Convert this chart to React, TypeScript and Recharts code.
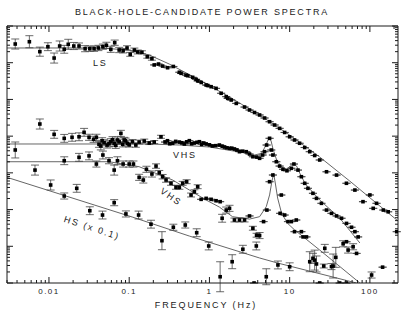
import { ComposedChart, ErrorBar, Line, Scatter, XAxis, YAxis } from "recharts";

// [frequency (Hz), power (arb.), error factor (1 = no bar)]
const LS_POINTS: [number, number, number][] = [
  [0.0038, 323, 1.37], [0.0057, 373, 1.46], [0.0077, 200, 1.33], [0.0097, 273, 1.28],
  [0.0116, 134, 1.37], [0.0136, 285, 1.37], [0.0155, 232, 1.28], [0.0174, 317, 1.37],
  [0.0204, 285, 1.25], [0.0237, 285, 1.21], [0.0282, 241, 1.21], [0.0323, 241, 1.18],
  [0.0365, 241, 1.18], [0.0413, 252, 1.18], [0.047, 273, 1.18], [0.052, 298, 1.21],
  [0.059, 232, 1.21], [0.066, 351, 1.18], [0.075, 222, 1.18], [0.084, 212, 1.15],
  [0.094, 252, 1.15], [0.103, 169, 1.13], [0.116, 222, 1.13], [0.128, 196, 1.13],
  [0.144, 192, 1.1], [0.168, 146, 1.1], [0.192, 129, 1.1], [0.205, 87, 1],
  [0.232, 92, 1], [0.261, 81, 1], [0.301, 73, 1], [0.355, 79, 1],
  [0.422, 55, 1], [0.443, 51.4, 1], [0.511, 46, 1], [0.535, 44.3, 1],
  [0.618, 40, 1], [0.682, 35.3, 1], [0.714, 32, 1], [0.79, 29, 1],
  [0.91, 24.7, 1], [0.95, 24, 1], [1.05, 22.2, 1], [1.21, 20, 1],
  [1.4, 14.7, 1], [1.62, 11.9, 1], [1.69, 10.7, 1], [1.87, 9.64, 1],
  [2.16, 7.8, 1], [2.74, 6.2, 1], [3.16, 5.15, 1], [3.65, 4.4, 1],
  [4.22, 3.77, 1], [4.87, 3.12, 1], [5.62, 2.47, 1], [6.49, 2.01, 1],
  [7.5, 1.63, 1], [8.66, 1.26, 1], [10, 0.96, 1], [11.5, 0.785, 1],
  [13.3, 0.64, 1], [15.4, 0.49, 1], [17.8, 0.377, 1], [20.5, 0.297, 1],
  [23.7, 0.224, 1], [28.8, 0.107, 1], [38.4, 0.087, 1], [51, 0.052, 1],
  [65, 0.034, 1], [82, 0.0164, 1], [100, 0.025, 1], [110, 0.0108, 1],
  [121, 0.0148, 1], [147, 0.0097, 1], [169, 0.0087, 1], [216, 0.0025, 1],
];

const VHS_HI_POINTS: [number, number, number][] = [
  [0.0038, 0.42, 1.65], [0.0077, 2.14, 1.37], [0.0116, 1.12, 1.28], [0.0155, 0.87, 1.28],
  [0.0194, 0.93, 1.28], [0.0237, 0.96, 1.28], [0.0274, 1.27, 1.28], [0.0316, 0.93, 1.21],
  [0.036, 0.82, 1.21], [0.039, 0.93, 1.21], [0.042, 0.6, 1.21], [0.0443, 0.54, 1.28],
  [0.046, 0.75, 1.21], [0.0487, 0.66, 1.21], [0.053, 0.573, 1.21], [0.056, 0.62, 1.21],
  [0.059, 0.705, 1.21], [0.062, 0.8, 1.21], [0.065, 0.638, 1.21], [0.068, 0.56, 1.21],
  [0.0714, 0.785, 1.21], [0.075, 0.7, 1.18], [0.0788, 1.19, 1.21], [0.083, 0.6, 1.18],
  [0.0866, 0.785, 1.18], [0.09, 0.75, 1.18], [0.095, 0.638, 1.18], [0.1, 0.58, 1.15],
  [0.11, 0.705, 1.15], [0.121, 0.573, 1.15], [0.133, 0.69, 1.13], [0.154, 0.736, 1.13],
  [0.178, 0.65, 1.1], [0.205, 0.69, 1.1], [0.249, 0.96, 1.1], [0.28, 0.69, 1],
  [0.3, 0.75, 1], [0.32, 0.62, 1], [0.348, 0.638, 1], [0.38, 0.72, 1],
  [0.422, 0.69, 1], [0.45, 0.66, 1], [0.487, 0.611, 1], [0.52, 0.7, 1],
  [0.562, 0.752, 1], [0.6, 0.62, 1], [0.649, 0.65, 1], [0.7, 0.68, 1],
  [0.75, 0.705, 1], [0.8, 0.6, 1], [0.85, 0.65, 1], [0.91, 0.611, 1],
  [1.0, 0.58, 1], [1.09, 0.54, 1], [1.2, 0.55, 1], [1.33, 0.573, 1],
  [1.45, 0.53, 1], [1.54, 0.506, 1], [1.65, 0.48, 1], [1.78, 0.467, 1],
  [1.9, 0.47, 1], [2.05, 0.446, 1], [2.2, 0.42, 1], [2.37, 0.377, 1],
  [2.6, 0.39, 1], [2.88, 0.377, 1], [3.16, 0.326, 1], [3.48, 0.275, 1],
  [3.87, 0.27, 1], [4.22, 0.249, 1], [4.6, 0.306, 1], [4.87, 0.377, 1],
  [5.16, 0.573, 1], [5.62, 0.873, 1], [5.9, 0.419, 1], [6.18, 0.306, 1],
  [6.82, 0.201, 1], [7.5, 0.153, 1], [8.25, 0.125, 1], [9.25, 0.114, 1],
  [10.5, 0.133, 1], [11.3, 0.174, 1], [12.7, 0.119, 1], [14.0, 0.0785, 1],
  [15.4, 0.0519, 1], [16.9, 0.0379, 1], [19.5, 0.0277, 1], [21.6, 0.0202, 1],
  [24.9, 0.0148, 1], [28.8, 0.0097, 1], [33.2, 0.0079, 1], [38.4, 0.0067, 1],
  [44.3, 0.0058, 1], [51.1, 0.0042, 1], [59, 0.0033, 1], [65, 0.0025, 1],
  [71.4, 0.0018, 1],
];

const VHS_LO_POINTS: [number, number, number][] = [
  [0.0067, 0.119, 1.37], [0.0155, 0.214, 1.28], [0.0237, 0.265, 1.28], [0.0316, 0.29, 1.28],
  [0.039, 0.174, 1.21], [0.047, 0.306, 1.28], [0.056, 0.214, 1.21], [0.065, 0.119, 1.37],
  [0.0714, 0.214, 1.28], [0.084, 0.174, 1.21], [0.1, 0.174, 1.21], [0.113, 0.174, 1.21],
  [0.133, 0.0755, 1.21], [0.15, 0.0638, 1.21], [0.164, 0.125, 1.21], [0.192, 0.093, 1.21],
  [0.216, 0.153, 1.15], [0.237, 0.101, 1.15], [0.261, 0.0785, 1.15], [0.288, 0.0638, 1.15],
  [0.332, 0.0519, 1.13], [0.383, 0.0404, 1.13], [0.422, 0.0404, 1.13], [0.464, 0.0519, 1.13],
  [0.52, 0.0574, 1.13], [0.59, 0.0249, 1.13], [0.649, 0.0306, 1.13], [0.714, 0.0419, 1.13],
  [0.788, 0.019, 1], [0.91, 0.0202, 1], [1.05, 0.019, 1], [1.21, 0.0174, 1],
  [1.36, 0.0164, 1], [1.44, 0.0058, 1.28], [1.62, 0.0097, 1.21], [1.78, 0.0108, 1.21],
  [2.05, 0.0052, 1.13], [2.37, 0.0052, 1.13], [2.74, 0.0052, 1.13], [3.16, 0.0067, 1],
  [3.48, 0.0031, 1.13], [3.87, 0.002, 1.13], [4.73, 0.0047, 1], [5.2, 0.0097, 1],
  [5.62, 0.0574, 1], [6.18, 0.0873, 1], [7.87, 0.0249, 1], [7.6, 0.0079, 1],
  [8.66, 0.0071, 1], [9.52, 0.0047, 1], [10.5, 0.0047, 1], [12.1, 0.0052, 1],
  [11.5, 0.0025, 1], [14.0, 0.0025, 1], [14.7, 0.0018, 1], [16.2, 0.0018, 1],
  [19.5, 0.00047, 1.37], [27.4, 0.00088, 1.28], [33.2, 0.00028, 1.21], [46.4, 0.00117, 1.21],
  [51.1, 0.00133, 1], [53.5, 0.00079, 1.21], [61.8, 0.00097, 1.21], [68.2, 0.00064, 1],
  [105, 0.000165, 1.21], [144, 0.00027, 1],
];

const HS_POINTS: [number, number, number][] = [
  [0.0105, 0.0467, 1.37], [0.0155, 0.0234, 1.21], [0.0222, 0.0379, 1.28], [0.0323, 0.0093, 1.28],
  [0.0465, 0.0071, 1.28], [0.065, 0.0154, 1.21], [0.091, 0.0076, 1.21], [0.131, 0.0071, 1.28],
  [0.187, 0.004, 1.28], [0.256, 0.00142, 1.76], [0.355, 0.0033, 1.21], [0.5, 0.0038, 1.21],
  [0.694, 0.00234, 1.28], [0.98, 0.00102, 1.28], [1.36, 0.000148, 2.56], [1.92, 0.00038, 1.55],
  [2.61, 0.00083, 1.28], [3.6, 0.0001, 1], [3.84, 0.00102, 1.28], [4.22, 0.00196, 1.21],
  [5.11, 0.000148, 1.65], [7.14, 0.00031, 1.28], [10, 0.000277, 1.28], [17.8, 0.00038, 1.87],
  [20.5, 0.00042, 1.87], [21.6, 0.00033, 1.65], [23.7, 0.0001, 1], [26.6, 0.00029, 1.13],
  [34.8, 0.00029, 2.12], [37.6, 0.0005, 1.87], [42, 0.0001, 1], [51, 0.0001, 1],
];

// model curves [frequency, power]
const LS_MODEL: [number, number][] = [
  [0.003, 252], [0.042, 252], [0.1, 222], [0.178, 162], [0.316, 92], [0.75, 34],
  [1.78, 11.6], [4.22, 3.77], [10, 1.07], [23.7, 0.27], [56, 0.06], [133, 0.0125], [224, 0.0049],
];
const VHS_HI_MODEL: [number, number][] = [
  [0.003, 0.611], [0.178, 0.611], [0.422, 0.573], [1.0, 0.506], [2.37, 0.37], [3.65, 0.306],
  [4.47, 0.34], [5.0, 0.538], [5.38, 0.785], [5.62, 0.86], [5.87, 0.736], [6.2, 0.446],
  [6.88, 0.224], [7.94, 0.143], [9.2, 0.127], [10.2, 0.153], [11.2, 0.18], [12.2, 0.153],
  [13.7, 0.0873], [15.8, 0.049], [23.7, 0.0182], [42.2, 0.0058], [75, 0.00123],
];
const VHS_LO_MODEL: [number, number][] = [
  [0.003, 0.201], [0.056, 0.201], [0.133, 0.147], [0.348, 0.0638], [0.562, 0.0341], [0.91, 0.0182],
  [1.33, 0.0117], [1.94, 0.0064], [3.16, 0.0055], [4.22, 0.0064], [5.11, 0.012], [5.62, 0.025],
  [5.95, 0.052], [6.31, 0.097], [6.68, 0.0467], [7.08, 0.0206], [7.94, 0.0079], [9.44, 0.0042],
  [11.5, 0.0028], [23.7, 0.00079], [75, 0.0001],
];
const HS_MODEL: [number, number][] = [
  [0.003, 0.0755], [0.109, 0.00627], [0.562, 0.0019], [4.22, 0.00048], [7.08, 0.00035], [68, 0.0001],
];

const X_DOMAIN: [number, number] = [0.003, 224];
const Y_DOMAIN: [number, number] = [1e-4, 1e3];
const X_LABELS = ["0.01", "0.1", "1", "10", "100"];

const INK = "#1a1a1a";
const FONT = "'Liberation Sans', Arial, sans-serif";

function logTicks([lo, hi]: [number, number]) {
  const out: number[] = [];
  for (let e = Math.floor(Math.log10(lo)); e <= Math.ceil(Math.log10(hi)); e++) {
    for (let m = 1; m < 10; m++) {
      const v = Number((m * Math.pow(10, e)).toPrecision(3));
      if (v >= lo * 0.999 && v <= hi * 1.001) out.push(v);
    }
  }
  return out;
}

const isDecade = (v: number) => Math.abs(Math.log10(v) - Math.round(Math.log10(v))) < 1e-6;

const toRows = (pts: [number, number, number][]) =>
  pts.map(([f, p, ef]) => ({ f, p, err: [p - p / ef, p * ef - p] }));
const toLine = (pts: [number, number][]) => pts.map(([f, p]) => ({ f, p }));

function makeTick(side: "bottom" | "top" | "left" | "right") {
  return (props: any) => {
    const { x, y, payload } = props;
    const v = payload.value as number;
    const len = isDecade(v) ? 6 : 3;
    let x2 = x;
    let y2 = y;
    if (side === "bottom") y2 = y - len;
    if (side === "top") y2 = y + len;
    if (side === "left") x2 = x + len;
    if (side === "right") x2 = x - len;
    const label = side === "bottom" ? X_LABELS.find((l) => Number(l) === v) : undefined;
    return (
      <g>
        <line x1={x} y1={y} x2={x2} y2={y2} stroke={INK} strokeWidth={1} />
        {label && (
          <text x={x} y={y + 11} textAnchor="middle" fontSize={8} letterSpacing={1.4} fill={INK} fontFamily={FONT}>
            {label}
          </text>
        )}
      </g>
    );
  };
}

const dot = (props: any) => (
  <rect x={props.cx - 1.8} y={props.cy - 1.8} width={3.6} height={3.6} fill="#000" />
);

export default function App() {
  const xTicks = logTicks(X_DOMAIN);
  const yTicks = logTicks(Y_DOMAIN);
  const series = [LS_POINTS, VHS_HI_POINTS, VHS_LO_POINTS, HS_POINTS];
  const models = [LS_MODEL, VHS_HI_MODEL, VHS_LO_MODEL, HS_MODEL];
  const axisLine = { stroke: INK, strokeWidth: 1 };
  const xCommon = {
    type: "number" as const, scale: "log" as const, dataKey: "f", domain: X_DOMAIN,
    allowDataOverflow: true, ticks: xTicks, interval: 0 as const, tickSize: 0, tickMargin: 0, axisLine,
  };
  const yCommon = {
    type: "number" as const, scale: "log" as const, dataKey: "p", domain: Y_DOMAIN,
    allowDataOverflow: true, ticks: yTicks, interval: 0 as const, tickSize: 0, tickMargin: 0, axisLine, width: 1,
  };

  return (
    <div style={{ position: "absolute", left: 0, top: 0, width: 405, height: 315, background: "#fff" }}>
      <ComposedChart width={405} height={315} margin={{ top: 25, right: 6, bottom: 0, left: 6 }}>
        <XAxis xAxisId="b" orientation="bottom" height={32} tick={makeTick("bottom")} {...xCommon} />
        <XAxis xAxisId="t" orientation="top" height={1} tick={makeTick("top")} {...xCommon} />
        <YAxis yAxisId="l" orientation="left" tick={makeTick("left")} {...yCommon} />
        <YAxis yAxisId="r" orientation="right" tick={makeTick("right")} {...yCommon} />
        {/* invisible carrier so the top and right frame axes have a series */}
        <Line
          xAxisId="t"
          yAxisId="r"
          data={toLine(LS_MODEL)}
          dataKey="p"
          dot={false}
          stroke="none"
          isAnimationActive={false}
        />
        {models.map((m, i) => (
          <Line
            key={"m" + i}
            xAxisId="b"
            yAxisId="l"
            data={toLine(m)}
            dataKey="p"
            type="linear"
            dot={false}
            stroke="#555"
            strokeWidth={0.9}
            isAnimationActive={false}
          />
        ))}
        {series.map((s, i) => (
          <Scatter
            key={"s" + i}
            xAxisId="b"
            yAxisId="l"
            data={toRows(s)}
            dataKey="p"
            shape={dot}
            isAnimationActive={false}
          >
            <ErrorBar dataKey="err" direction="y" width={4} stroke="#444" strokeWidth={0.8} isAnimationActive={false} />
          </Scatter>
        ))}
      </ComposedChart>
      <svg width={405} height={315} style={{ position: "absolute", left: 0, top: 0, pointerEvents: "none" }}>
        <g fontFamily={FONT} fill={INK}>
          <text x={202} y={15} textAnchor="middle" fontSize={9} letterSpacing={1.8}>
            BLACK-HOLE-CANDIDATE POWER SPECTRA
          </text>
          <text x={206} y={308} textAnchor="middle" fontSize={9} letterSpacing={1.9}>
            FREQUENCY (Hz)
          </text>
          <text x={93} y={66} fontSize={9} letterSpacing={1.8}>LS</text>
          <text x={173} y={158} fontSize={9} letterSpacing={1.8}>VHS</text>
          <text x={171} y={200} fontSize={9} letterSpacing={1.8} textAnchor="middle" transform="rotate(35 171 197)">
            VHS
          </text>
          <text x={92} y={231} fontSize={9} letterSpacing={1.8} textAnchor="middle" transform="rotate(18 92 228)">
            HS (x 0.1)
          </text>
        </g>
      </svg>
    </div>
  );
}
